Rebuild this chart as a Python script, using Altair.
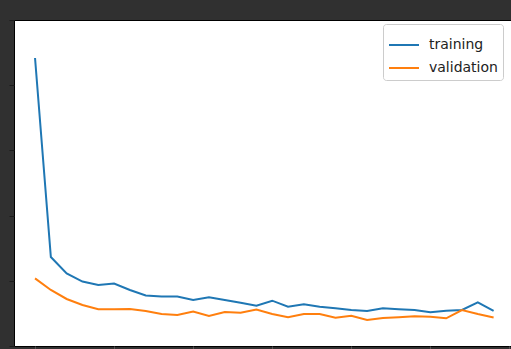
import altair as alt
import pandas as pd

# Loss per epoch for the two runs
epochs = list(range(30))
training = [4.417, 1.365, 1.112, 0.989, 0.936, 0.959, 0.859, 0.775, 0.759, 0.759,
            0.706, 0.747, 0.706, 0.664, 0.618, 0.695, 0.603, 0.640, 0.603, 0.578,
            0.552, 0.537, 0.578, 0.563, 0.552, 0.517, 0.541, 0.552, 0.670, 0.537]
validation = [1.038, 0.859, 0.721, 0.629, 0.563, 0.563, 0.567, 0.537, 0.491, 0.475,
              0.529, 0.460, 0.521, 0.509, 0.560, 0.491, 0.440, 0.491, 0.491, 0.433,
              0.463, 0.399, 0.429, 0.442, 0.456, 0.449, 0.425, 0.552, 0.491, 0.437]
series_names = ["training", "validation"]
series_colors = ["#1f77b4", "#ff7f0e"]
x_ticks = [0, 5, 10, 15, 20, 25, 30]
y_ticks = [0, 1, 2, 3, 4, 5]

rows = []
for name, values in zip(series_names, [training, validation]):
    for e, v in zip(epochs, values):
        rows.append({"epoch": e, "loss": v, "series": name})
df = pd.DataFrame(rows)

chart = alt.Chart(df).mark_line(strokeWidth=2).encode(
    x=alt.X("epoch:Q",
            scale=alt.Scale(domain=[-1.33, 30.1], nice=False, zero=False),
            axis=alt.Axis(values=x_ticks, labels=False, title=None, domain=False,
                          grid=False, ticks=True, tickSize=5, tickColor="#555555")),
    y=alt.Y("loss:Q",
            scale=alt.Scale(domain=[0, 5], nice=False),
            axis=alt.Axis(values=y_ticks, labels=False, title=None, domain=False,
                          grid=False, ticks=True, tickSize=5, tickColor="#1a1a1a")),
    color=alt.Color("series:N",
                    scale=alt.Scale(domain=series_names, range=series_colors),
                    title=None,
                    legend=alt.Legend(orient="none", legendX=369, legendY=4,
                                      symbolType="stroke", symbolSize=900,
                                      symbolStrokeWidth=2, labelFontSize=14,
                                      labelFont="DejaVu Sans", labelColor="#222222",
                                      labelOffset=9, padding=5, rowPadding=-12,
                                      fillColor="white", strokeColor="#cccccc",
                                      cornerRadius=3)),
).properties(
    width=497,
    height=326,
    title=alt.TitleParams("loss", fontSize=16.7, font="DejaVu Sans", fontWeight="normal",
                          color="#1a1a1a", baseline="alphabetic", offset=9, dx=2),
    padding={"left": 14, "top": 20, "right": 0, "bottom": 3},
    autosize=alt.AutoSizeParams(type="none"),
    background="#303030",
).configure_view(
    fill="white", stroke="#000000", strokeWidth=1
)

chart.save("out.html", embed_options={"renderer": "svg", "actions": False})
